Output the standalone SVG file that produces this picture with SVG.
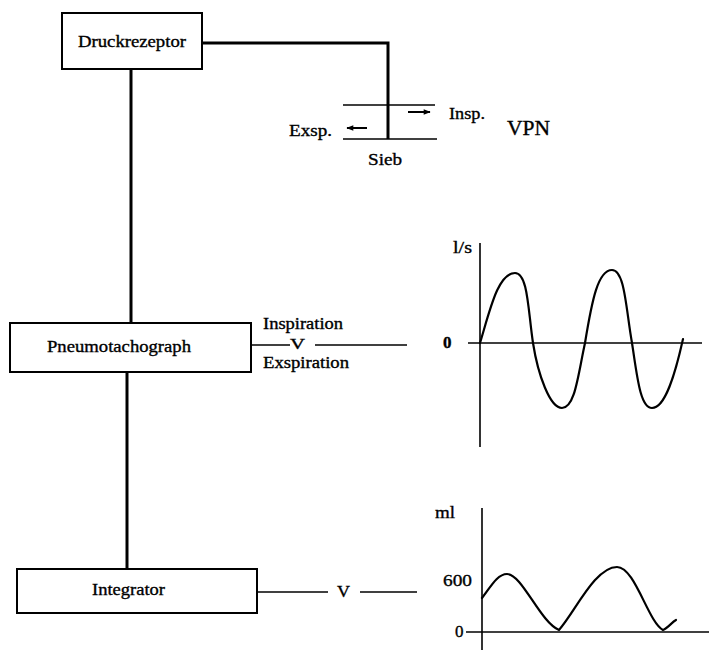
<svg xmlns="http://www.w3.org/2000/svg" width="709" height="650" viewBox="0 0 709 650">
<defs>
<style>
.box{fill:#fff;stroke:#000;stroke-width:2}
.t{font-family:"Liberation Serif","Times New Roman",serif;fill:#000;font-size:17px;stroke:#000;stroke-width:0.35}
.c{text-anchor:middle}
.thick{stroke:#000;stroke-width:3;fill:none}
.thin{stroke:#000;stroke-width:1.6;fill:none}
.wave{stroke:#000;stroke-width:2.2;fill:none;stroke-linejoin:round;stroke-linecap:round}
</style>
<marker id="ah" viewBox="0 0 10 10" refX="9" refY="5" markerWidth="8" markerHeight="7" orient="auto-start-reverse" markerUnits="userSpaceOnUse">
<path d="M0,1 L10,5 L0,9 z" fill="#000"/>
</marker>
</defs>
<rect width="709" height="650" fill="#fff"/>
<g id="connectors">
<polyline class="thick" points="202,43 388,43 388,139"/>
<line class="thick" x1="131" y1="69" x2="131" y2="323"/>
<line class="thick" x1="127" y1="372" x2="127" y2="569"/>
<line class="thin" x1="251" y1="345" x2="290" y2="345"/>
<line class="thin" x1="315" y1="345" x2="407" y2="345"/>
<line class="thin" x1="257" y1="592" x2="328" y2="592"/>
<line class="thin" x1="360" y1="592" x2="417" y2="592"/>
</g>
<g id="druckrezeptor">
<rect class="box" x="62" y="13" width="140" height="56"/>
<text class="t c" x="132" y="47" textLength="108" lengthAdjust="spacingAndGlyphs">Druckrezeptor</text>
</g>
<g id="sieb">
<line class="thin" x1="343" y1="105" x2="435" y2="105"/>
<line class="thin" x1="343" y1="139" x2="437" y2="139"/>
<line x1="408" y1="112" x2="430" y2="112" stroke="#000" stroke-width="2" marker-end="url(#ah)"/>
<line x1="367" y1="128" x2="347" y2="128" stroke="#000" stroke-width="2" marker-end="url(#ah)"/>
<text class="t" x="449" y="119" textLength="36" lengthAdjust="spacingAndGlyphs">Insp.</text>
<text class="t" x="289" y="136" textLength="43" lengthAdjust="spacingAndGlyphs">Exsp.</text>
<text class="t" x="368" y="165" textLength="34" lengthAdjust="spacingAndGlyphs">Sieb</text>
<text class="t" x="507" y="135" style="font-size:21px" textLength="43" lengthAdjust="spacingAndGlyphs">VPN</text>
</g>
<g id="pneumotachograph">
<rect class="box" x="10" y="323" width="241" height="49"/>
<text class="t" x="47" y="352" textLength="144" lengthAdjust="spacingAndGlyphs">Pneumotachograph</text>
<text class="t" x="263" y="329" style="font-size:16px" textLength="80" lengthAdjust="spacingAndGlyphs">Inspiration</text>
<text class="t" x="290" y="349" style="font-size:15px" textLength="15" lengthAdjust="spacingAndGlyphs">V</text>
<text class="t" x="263" y="368" style="font-size:16px" textLength="86" lengthAdjust="spacingAndGlyphs">Exspiration</text>
</g>
<g id="integrator">
<rect class="box" x="17" y="569" width="240" height="44"/>
<text class="t" x="92" y="595" textLength="73" lengthAdjust="spacingAndGlyphs">Integrator</text>
<text class="t" x="337" y="597" textLength="13" lengthAdjust="spacingAndGlyphs">V</text>
</g>
<g id="flow-graph">
<line class="thin" x1="480" y1="243" x2="480" y2="447"/>
<line class="thin" x1="468" y1="343" x2="702" y2="343"/>
<text class="t" x="453" y="253" textLength="19" lengthAdjust="spacingAndGlyphs">l/s</text>
<text class="t" x="443" y="348" style="font-weight:bold">0</text>
<path class="wave" d="M480,343 C490,310 498,273 515,273 C528,273 528,310 533,343 C538,375 550,408 562,408 C575,408 578,375 585,343 C592,300 598,270 612,270 C625,270 626,310 632,343 C637,375 640,408 652,408 C665,408 675,375 683,339"/>
</g>
<g id="volume-graph">
<line class="thin" x1="482" y1="508" x2="482" y2="650"/>
<line class="thin" x1="466" y1="632" x2="709" y2="632"/>
<text class="t" x="435" y="518" textLength="20" lengthAdjust="spacingAndGlyphs">ml</text>
<text class="t" x="443" y="586" textLength="29" lengthAdjust="spacingAndGlyphs">600</text>
<text class="t" x="455" y="637">0</text>
<path class="wave" d="M482,598 C490,588 497,574 507,574 C522,574 540,622 559,630 C575,612 595,567 617,567 C635,567 648,622 663,630 C668,628 672,622 676,620"/>
</g>
</svg>
